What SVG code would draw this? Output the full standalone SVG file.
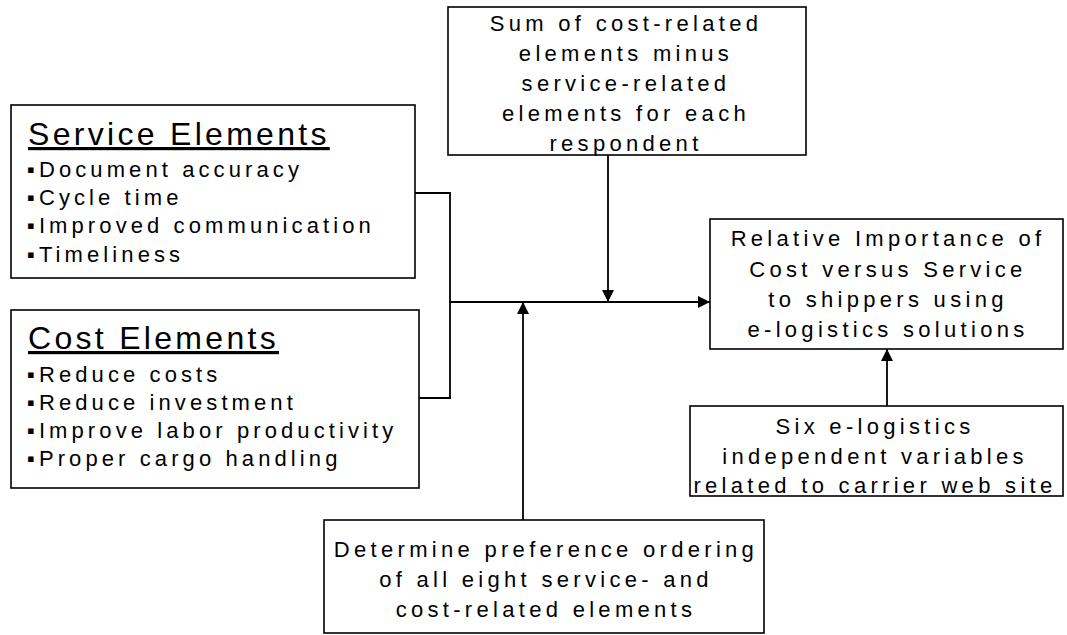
<svg xmlns="http://www.w3.org/2000/svg" width="1067" height="635" viewBox="0 0 1067 635">
<style>
.box{fill:#fff;stroke:#000;stroke-width:1.6}
.ln{fill:none;stroke:#000;stroke-width:1.8}
text{font-family:"Liberation Sans","DejaVu Sans",Arial,sans-serif;fill:#000}
.t{font-size:22px;letter-spacing:4.1px}
.c{text-anchor:middle;letter-spacing:4.3px}
.h{font-size:32px;letter-spacing:3.3px;text-decoration:underline}
</style>
<defs>
<marker id="ah" viewBox="0 0 12 12" refX="12" refY="6" markerWidth="12" markerHeight="12" markerUnits="userSpaceOnUse" orient="auto">
<path d="M0,0 L12,6 L0,12 Z" fill="#000"/>
</marker>
</defs>
<rect width="1067" height="635" fill="#fff"/>
<g id="connectors">
<polyline class="ln" points="415,193 450,193 450,398 419,398"/>
<line class="ln" x1="450" y1="302" x2="710" y2="302" marker-end="url(#ah)"/>
<line class="ln" x1="608" y1="155" x2="608" y2="302" marker-end="url(#ah)"/>
<line class="ln" x1="523" y1="520" x2="523" y2="302" marker-end="url(#ah)"/>
<line class="ln" x1="887" y1="406" x2="887" y2="349" marker-end="url(#ah)"/>
</g>
<g id="service">
<rect class="box" x="11" y="105" width="404" height="173"/>
<text class="h" x="28" y="145">Service Elements</text>
<text class="t" x="27" y="177">▪Document accuracy</text>
<text class="t" x="27" y="205">▪Cycle time</text>
<text class="t" x="27" y="233">▪Improved communication</text>
<text class="t" x="27" y="262">▪Timeliness</text>
</g>
<g id="cost">
<rect class="box" x="11" y="310" width="408" height="178"/>
<text class="h" x="28" y="349">Cost Elements</text>
<text class="t" x="27" y="382">▪Reduce costs</text>
<text class="t" x="27" y="410">▪Reduce investment</text>
<text class="t" x="27" y="438">▪Improve labor productivity</text>
<text class="t" x="27" y="466">▪Proper cargo handling</text>
</g>
<g id="sum">
<rect class="box" x="448" y="7" width="358" height="148"/>
<text class="t c" x="626" y="31">Sum of cost-related</text>
<text class="t c" x="626" y="61">elements minus</text>
<text class="t c" x="626" y="91">service-related</text>
<text class="t c" x="626" y="121">elements for each</text>
<text class="t c" x="626" y="151">respondent</text>
</g>
<g id="relative">
<rect class="box" x="710" y="219" width="353" height="130"/>
<text class="t c" x="888" y="246">Relative Importance of</text>
<text class="t c" x="888" y="277">Cost versus Service</text>
<text class="t c" x="888" y="307">to shippers using</text>
<text class="t c" x="888" y="337">e-logistics solutions</text>
</g>
<g id="six">
<rect class="box" x="690" y="406" width="373" height="90"/>
<text class="t c" x="875" y="434">Six e-logistics</text>
<text class="t c" x="875" y="464">independent variables</text>
<text class="t c" x="875" y="493">related to carrier web site</text>
</g>
<g id="determine">
<rect class="box" x="324" y="520" width="440" height="113"/>
<text class="t c" x="546" y="557">Determine preference ordering</text>
<text class="t c" x="546" y="587">of all eight service- and</text>
<text class="t c" x="546" y="617">cost-related elements</text>
</g>
</svg>
